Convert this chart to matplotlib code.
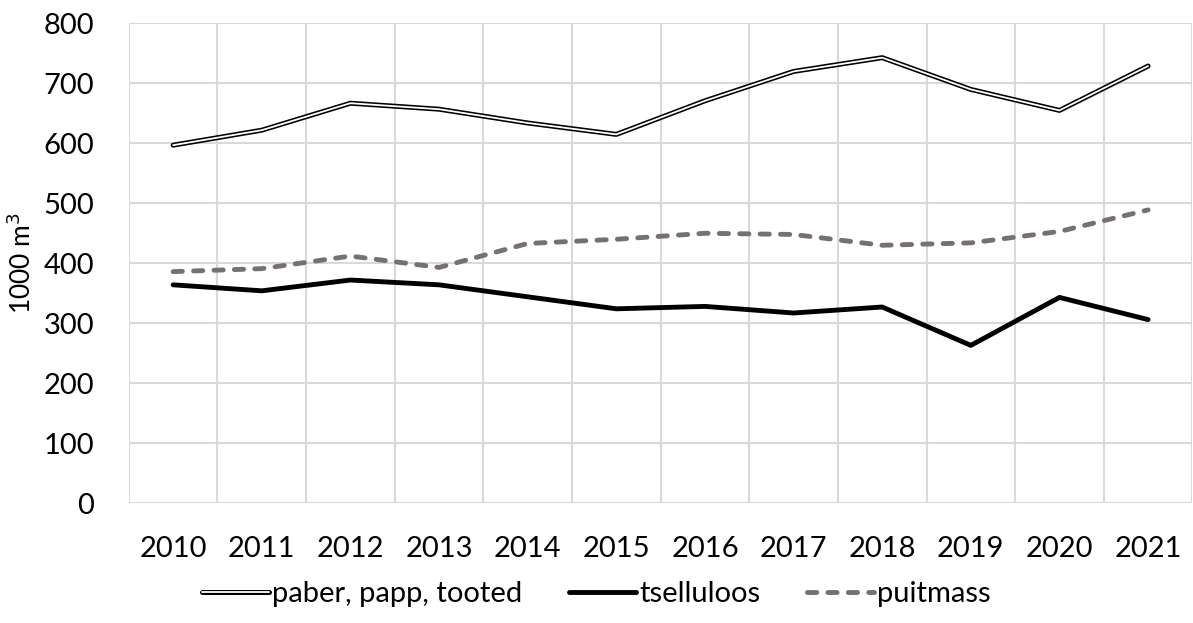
import matplotlib
matplotlib.use("Agg")
import matplotlib.pyplot as plt
import matplotlib.patheffects as pe
import numpy as np

plt.rcParams['font.family'] = ['Lato', 'DejaVu Sans']

years = ["2010", "2011", "2012", "2013", "2014", "2015",
         "2016", "2017", "2018", "2019", "2020", "2021"]
paber = [597, 622, 667, 657, 634, 615, 671, 720, 743, 690, 655, 729]
tselluloos = [364, 354, 372, 364, 344, 324, 328, 317, 327, 263, 343, 306]
puitmass = [386, 391, 412, 393, 433, 440, 450, 448, 430, 434, 453, 489]

fig = plt.figure(figsize=(11.93, 6.23), dpi=100)
ax = fig.add_axes([0.108, 0.1926, 0.8915, 0.7697])

x = np.arange(len(years))
ax.plot(x, paber, color="white", lw=1.3, solid_capstyle="round", zorder=3,
        path_effects=[pe.Stroke(linewidth=3.6, foreground="black"), pe.Normal()],
        label="paber, papp, tooted")
ax.plot(x, tselluloos, color="black", lw=3.5, solid_capstyle="round", zorder=3,
        label="tselluloos")
ax.plot(x, puitmass, color="#767171", lw=3.5, ls=(0, (1.9, 2.3)),
        dash_capstyle="round", zorder=3, label="puitmass")

ax.set_xlim(-0.5, len(years) - 0.5)
ax.set_ylim(0, 800)
ax.set_yticks(np.arange(0, 801, 100))
ax.set_xticks(x)
ax.set_xticklabels(years)
ax.set_xticks(np.arange(-0.5, len(years), 1), minor=True)
ax.grid(True, which="major", axis="y", color="#d9d9d9", lw=1.5)
ax.grid(True, which="minor", axis="x", color="#d9d9d9", lw=1.5)
ax.set_axisbelow(True)
for s in ax.spines.values():
    s.set_visible(False)
ax.tick_params(which="both", length=0, labelsize=21, colors="black")
ax.tick_params(axis="x", pad=24)
ax.tick_params(axis="y", pad=25)
ax.set_ylabel("1000 m$^3$", fontsize=19, labelpad=5)

fig.legend(loc="center", bbox_to_anchor=(0.5, 0.046), ncol=3, frameon=False,
           fontsize=21, handlelength=2.3, handletextpad=0.1, columnspacing=1.6)

fig.savefig("out.png", dpi=100)
